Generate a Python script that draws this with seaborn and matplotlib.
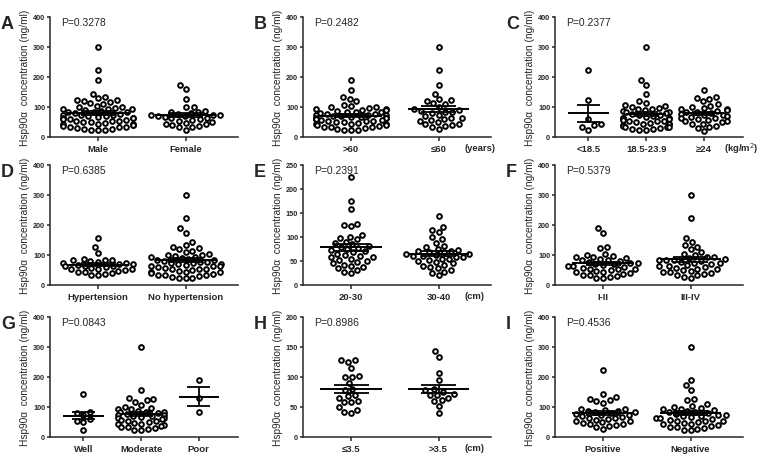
import numpy as np
import pandas as pd
import matplotlib.pyplot as plt
import seaborn as sns
import warnings
warnings.filterwarnings('ignore')

sns.set_style('ticks')
plt.rcParams['font.family'] = ['Liberation Sans', 'DejaVu Sans']

# ---- data (Hsp90a, ng/ml) ----
# A: gender
male = [300, 225, 190, 145, 135, 130, 125, 125, 120, 118, 115, 110, 105, 100, 100, 98,
        95, 95, 92, 90, 88, 85, 85, 82, 80, 78, 75, 75, 72, 70, 70, 68, 65, 65, 62, 60,
        60, 58, 55, 55, 52, 50, 50, 48, 45, 45, 42, 40, 40, 38, 35, 35, 32, 30, 28, 28,
        25, 25, 22]
female = [175, 160, 128, 100, 100, 88, 85, 82, 80, 78, 75, 75, 72, 70, 70, 68, 65, 62,
          60, 58, 55, 50, 48, 45, 42, 40, 38, 35, 32, 25]
# B: age
age_over60 = [190, 158, 135, 128, 120, 108, 105, 100, 100, 98, 95, 92, 90, 90, 88, 85,
              85, 82, 80, 78, 78, 75, 72, 72, 70, 70, 68, 68, 65, 65, 62, 60, 60, 58, 58,
              55, 55, 52, 50, 50, 48, 45, 45, 42, 40, 40, 38, 35, 35, 32, 30, 28, 25, 25, 22]
age_under60 = [300, 225, 175, 145, 128, 122, 120, 115, 110, 100, 95, 90, 88, 85, 85, 80,
               75, 70, 65, 62, 60, 58, 55, 50, 45, 42, 40, 38, 35, 28]
# C: BMI
bmi_low = [225, 122, 60, 42, 40, 35, 25]
bmi_mid = [300, 190, 175, 145, 120, 115, 108, 105, 100, 98, 95, 92, 90, 88, 85, 82, 80,
           78, 75, 72, 70, 68, 65, 65, 62, 60, 58, 55, 55, 52, 50, 48, 45, 45, 42, 40, 38,
           35, 35, 32, 30, 28, 28, 25, 25]
bmi_high = [158, 135, 130, 128, 120, 110, 105, 100, 98, 95, 92, 90, 88, 85, 82, 80, 78,
            75, 72, 70, 68, 65, 62, 60, 58, 55, 52, 50, 45, 42, 38, 35, 30, 20]
# D: hypertension
hyper = [158, 128, 108, 88, 85, 85, 82, 80, 78, 75, 72, 70, 70, 68, 65, 65, 62, 60, 58,
         55, 55, 52, 50, 48, 45, 42, 40, 38, 35, 32]
no_hyper = [300, 225, 190, 175, 145, 135, 128, 122, 120, 115, 110, 105, 100, 100, 98, 95,
            92, 90, 88, 85, 82, 80, 78, 78, 75, 72, 70, 70, 68, 65, 65, 62, 60, 58, 55, 55,
            52, 50, 48, 45, 45, 42, 40, 38, 35, 35, 32, 30, 28, 25, 25, 22]
# E: tumour length
len_20_30 = [225, 175, 158, 128, 125, 122, 105, 100, 98, 95, 90, 88, 85, 82, 80, 78, 75,
             72, 70, 68, 65, 62, 60, 58, 58, 55, 52, 50, 48, 45, 42, 40, 38, 35, 32, 28, 25]
len_30_40 = [143, 120, 115, 110, 100, 95, 88, 82, 80, 75, 72, 70, 70, 68, 68, 65, 65, 62,
             60, 60, 58, 58, 55, 55, 52, 50, 48, 45, 42, 40, 38, 35, 32, 28, 25, 20]
# F: stage
stage_12 = [190, 175, 128, 122, 105, 100, 98, 95, 92, 90, 88, 85, 82, 80, 78, 75, 72, 70,
            70, 68, 65, 62, 60, 58, 55, 55, 52, 50, 48, 45, 42, 40, 38, 35, 32, 30, 28, 25, 22]
stage_34 = [300, 225, 158, 145, 135, 128, 120, 110, 105, 100, 95, 92, 90, 88, 85, 85, 82,
            80, 78, 75, 72, 70, 68, 65, 62, 60, 58, 55, 52, 50, 48, 45, 42, 40, 38, 35, 32,
            28, 25]
# G: differentiation
diff_well = [143, 85, 80, 75, 60, 55, 50, 25]
diff_moderate = [300, 158, 130, 128, 122, 118, 108, 100, 98, 95, 92, 88, 85, 85, 82, 80,
                 78, 75, 72, 70, 70, 68, 65, 62, 60, 58, 55, 52, 50, 48, 45, 42, 40, 38,
                 35, 32, 30, 28, 25, 22]
diff_poor = [190, 130, 85]
# H: tumour size
size_small = [128, 128, 125, 115, 102, 100, 100, 90, 80, 78, 70, 68, 65, 60, 58, 58, 50,
              45, 42, 40]
size_large = [143, 133, 107, 95, 80, 78, 75, 72, 70, 70, 65, 62, 60, 52, 40]
# I: lymph node
lymph_pos = [225, 143, 132, 128, 122, 120, 115, 95, 92, 90, 88, 88, 85, 82, 80, 78, 75,
             72, 70, 68, 65, 62, 60, 58, 55, 52, 50, 48, 45, 42, 40, 38, 35, 28]
lymph_neg = [300, 190, 175, 158, 128, 122, 110, 105, 100, 98, 95, 92, 90, 88, 85, 82, 80,
             78, 75, 72, 70, 70, 68, 65, 62, 60, 58, 55, 55, 52, 50, 48, 45, 42, 40, 38,
             35, 32, 30, 28, 25, 22]

panel_letters = ['A', 'B', 'C', 'D', 'E', 'F', 'G', 'H', 'I']
group_labels = [['Male', 'Female'], ['>60', '≤60'], ['<18.5', '18.5-23.9', '≥24'],
                ['Hypertension', 'No hypertension'], ['20-30', '30-40'], ['I-II', 'III-IV'],
                ['Well', 'Moderate', 'Poor'], ['≤3.5', '>3.5'], ['Positive', 'Negative']]
group_values = [[male, female], [age_over60, age_under60], [bmi_low, bmi_mid, bmi_high],
                [hyper, no_hyper], [len_20_30, len_30_40], [stage_12, stage_34],
                [diff_well, diff_moderate, diff_poor], [size_small, size_large],
                [lymph_pos, lymph_neg]]
p_values = ['P=0.3278', 'P=0.2482', 'P=0.2377', 'P=0.6385', 'P=0.2391', 'P=0.5379',
            'P=0.0843', 'P=0.8986', 'P=0.4536']
y_max = [400, 400, 400, 400, 250, 400, 400, 200, 400]
y_step = [100, 100, 100, 100, 50, 100, 100, 50, 100]
units = [None, '(years)', '(kg/m$^2$)', None, '(cm)', None, None, '(cm)', None]

W, H = 764, 464
fig = plt.figure(figsize=(W / 100, H / 100), dpi=100)
lefts = [50, 303, 555]
tops = [18, 166, 318]
aw, ah = 188, 120

for k in range(9):
    r, c = divmod(k, 3)
    ax = fig.add_axes([lefts[c] / W, 1 - (tops[r] + ah) / H, aw / W, ah / H])
    labels = group_labels[k]
    vals = group_values[k]
    df = pd.DataFrame({'group': np.repeat(labels, [len(v) for v in vals]),
                       'value': np.concatenate(vals)})
    sns.swarmplot(data=df, x='group', y='value', order=labels, ax=ax,
                  size=3.4, color='white', edgecolor='black', linewidth=1.4, zorder=2)

    # mean +/- SEM
    for i, v in enumerate(vals):
        v = np.asarray(v, dtype=float)
        m = v.mean()
        s = v.std(ddof=1) / np.sqrt(len(v))
        ax.vlines(i, m - s, m + s, color='black', lw=1.3, zorder=3)
        ax.hlines([m - s, m + s], i - 0.2, i + 0.2, color='black', lw=1.3, zorder=3)
        ax.hlines(m, i - 0.35, i + 0.35, color='black', lw=1.4, zorder=3)

    n = len(labels)
    if n == 2:
        ax.set_xlim(-0.55, 1.6)
    else:
        ax.set_xlim(-0.58, 2.68)
    ax.set_ylim(0, y_max[k])
    ax.set_yticks(np.arange(0, y_max[k] + 1, y_step[k]))
    ax.set_xlabel('')
    ax.set_ylabel('Hsp90α  concentration (ng/ml)', fontsize=7.3)
    ax.yaxis.set_label_coords(-0.108, 0.5)
    ax.tick_params(axis='y', labelsize=5.2, length=2.5, width=1.1, pad=1)
    ax.tick_params(axis='x', labelsize=6.8, length=3, width=1.1, pad=2)
    for t in ax.get_xticklabels() + ax.get_yticklabels():
        t.set_fontweight('bold')
    for sp in ['left', 'bottom']:
        ax.spines[sp].set_linewidth(1.1)
    sns.despine(ax=ax)

    ax.text(0.06, 0.955, p_values[k], transform=ax.transAxes, fontsize=7.5,
            ha='left', va='center')
    if units[k]:
        ux = 0.9 if n == 3 else 0.86
        ax.text(ux, -0.09, units[k], transform=ax.transAxes, fontsize=6.8,
                fontweight='bold', ha='left', va='center')
    fig.text((lefts[c] - 49) / W, 1 - (tops[r] + 11) / H, panel_letters[k],
             fontsize=13, fontweight='bold', ha='left', va='baseline')

plt.savefig('out.png', dpi=100)
